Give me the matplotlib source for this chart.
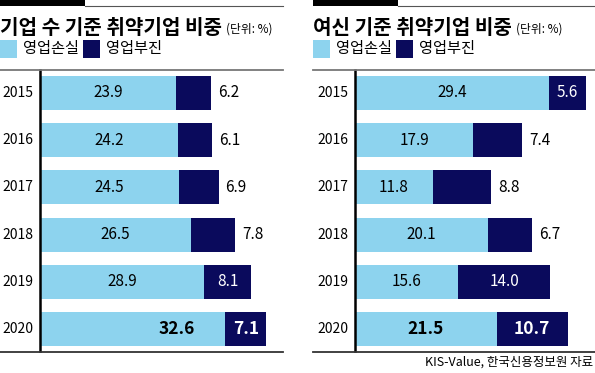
import numpy as np
import matplotlib
matplotlib.use("Agg")
import matplotlib.pyplot as plt
from matplotlib.lines import Line2D
from matplotlib.patches import Rectangle

plt.rcParams['font.family'] = ['Noto Sans CJK KR', 'DejaVu Sans']

years = ['2015', '2016', '2017', '2018', '2019', '2020']

# 기업 수 기준
count_loss = [23.9, 24.2, 24.5, 26.5, 28.9, 32.6]
count_slump = [6.2, 6.1, 6.9, 7.8, 8.1, 7.1]

# 여신 기준
credit_loss = [29.4, 17.9, 11.8, 20.1, 15.6, 21.5]
credit_slump = [5.6, 7.4, 8.8, 6.7, 14.0, 10.7]

titles = ['기업 수 기준 취약기업 비중', '여신 기준 취약기업 비중']
legend_labels = ['영업손실', '영업부진']
source = 'KIS-Value, 한국신용정보원 자료'

LIGHT = '#8dd3ee'
NAVY = '#0a0a5c'
W, H = 595, 373

fig = plt.figure(figsize=(W / 100, H / 100), dpi=100)


def fx(x):
    return x / W


def fy(y):
    return 1 - y / H


def hline(x0, x1, y, color, lw):
    fig.add_artist(Line2D([fx(x0), fx(x1)], [fy(y), fy(y)], color=color, lw=lw,
                          transform=fig.transFigure))


def panel(x0, x_axis, x_end, xmax, title, loss, slump, inside, shift):
    # header
    fig.add_artist(Rectangle((fx(x0), fy(6)), fx(85), 6 / H, color='black',
                             transform=fig.transFigure, lw=0))
    hline(x0 + 85, x_end, 5.5, '#555555', 0.8)
    t = fig.text(fx(x0), fy(34), title, fontsize=14.5, fontweight='bold',
                 ha='left', va='baseline')
    fig.canvas.draw()
    bb = t.get_window_extent()
    fig.text((bb.x1 + 4) / W, fy(33), '(단위: %)', fontsize=8.5,
             ha='left', va='baseline')
    # legend
    for i, (lab, col) in enumerate(zip(legend_labels, [LIGHT, NAVY])):
        lx = x0 + i * 83
        fig.add_artist(Rectangle((fx(lx), fy(58)), fx(17), 18 / H, color=col,
                                 transform=fig.transFigure, lw=0))
        fig.text(fx(lx + 23), fy(49), lab, fontsize=11, ha='left', va='center')
    hline(x0, x_end, 70, '#777777', 1.3)
    hline(x0, x_end, 351.5, '#333333', 1.3)

    ax = fig.add_axes([fx(x_axis), fy(351), fx(x_end - x_axis), (351 - 70) / H])
    y = np.arange(len(years))
    ax.barh(y, loss, height=0.72, color=LIGHT)
    ax.barh(y, slump, left=loss, height=0.72, color=NAVY)
    ax.set_xlim(0, xmax)
    ax.set_ylim(len(years) - 1 + 0.466, -0.487)
    for s in ['top', 'right', 'bottom']:
        ax.spines[s].set_visible(False)
    ax.spines['left'].set_linewidth(1.8)
    ax.spines['left'].set_color('black')
    ax.set_xticks([])
    ax.set_yticks([])
    for i, yr in enumerate(years):
        ax.annotate(yr, (0, i), xytext=(-5, 0), textcoords='offset points',
                    ha='right', va='center', fontsize=10)
        last = i == len(years) - 1
        fs = 12.5 if last else 11
        fw = 'bold' if last else 'normal'
        ax.annotate(f'{loss[i]:.1f}', (loss[i] / 2, i), xytext=(shift[i], 0),
                    textcoords='offset points', ha='center', va='center',
                    fontsize=fs, fontweight=fw, color='black')
        if inside[i]:
            ax.text(loss[i] + slump[i] / 2, i, f'{slump[i]:.1f}', ha='center',
                    va='center', fontsize=fs, fontweight=fw, color='white')
        else:
            ax.annotate(f'{slump[i]:.1f}', (loss[i] + slump[i], i), xytext=(5, 0),
                        textcoords='offset points', ha='left', va='center',
                        fontsize=fs, fontweight=fw, color='black')
    return ax


panel(0, 40, 283, 243 / 5.69, titles[0], count_loss, count_slump,
      [False, False, False, False, True, True], [0, 0, 0, 0, 0, 32])
panel(313, 355, 595, 240 / 6.6, titles[1], credit_loss, credit_slump,
      [True, False, False, False, True, True], [0] * 6)

fig.text(fx(593), fy(362), source, fontsize=9, ha='right', va='center')

fig.savefig('out.png', dpi=100)
